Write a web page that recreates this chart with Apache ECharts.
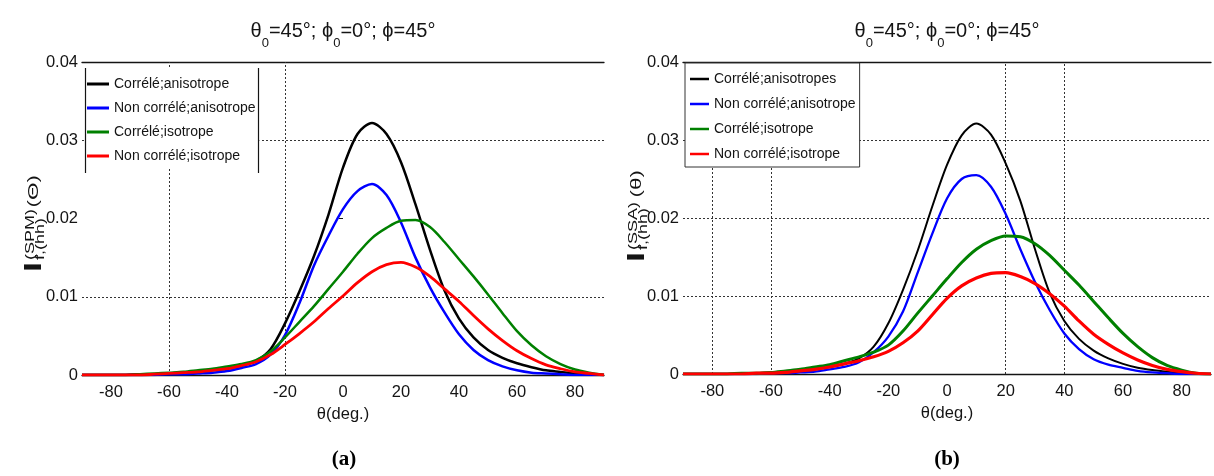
<!DOCTYPE html>
<html>
<head>
<meta charset="utf-8">
<script src="https://cdn.jsdelivr.net/npm/echarts@6/dist/echarts.min.js"></script>
<style>
  html, body { margin: 0; padding: 0; background: #fff; }
  #chart { width: 1214px; height: 476px; }
</style>
</head>
<body>
<div id="chart"></div>
<script>
// Incidence angle samples (degrees)
const theta = [-90, -85, -80, -75, -70, -65, -60, -55, -50, -45, -40, -35, -30, -25, -20, -15, -10, -5,
  0, 5, 10, 15, 20, 25, 30, 35, 40, 45, 50, 55, 60, 65, 70, 75, 80, 85, 90];

// (a) SPM intensities
const spmCorrAniso = [0, 0, 0, 0, 0.0001, 0.0001, 0.0002, 0.0003, 0.0004, 0.0006, 0.0008, 0.0012, 0.0018, 0.0033, 0.0066, 0.0107, 0.0152, 0.0205,
  0.0265, 0.0308, 0.0322, 0.0308, 0.0272, 0.0218, 0.0160, 0.0108, 0.0072, 0.0048, 0.0032, 0.0022, 0.0015, 0.0010, 0.0006, 0.0004, 0.0002, 0.0001, 0];
const spmUncorrAniso = [0, 0, 0, 0, 0, 0, 0.0001, 0.0001, 0.0002, 0.0003, 0.0005, 0.0009, 0.0014, 0.0026, 0.0051, 0.0092, 0.0140, 0.0178,
  0.0212, 0.0235, 0.0244, 0.0230, 0.0195, 0.0150, 0.0112, 0.0080, 0.0052, 0.0032, 0.0019, 0.0011, 0.0006, 0.0003, 0.0002, 0.0001, 0, 0, 0];
const spmCorrIso = [0, 0, 0, 0, 0.0001, 0.0002, 0.0003, 0.0004, 0.0006, 0.0008, 0.0011, 0.0014, 0.0019, 0.0030, 0.0048, 0.0068, 0.0088, 0.0110,
  0.0132, 0.0155, 0.0175, 0.0188, 0.0197, 0.0198, 0.0189, 0.0170, 0.0148, 0.0126, 0.0103, 0.0079, 0.0056, 0.0038, 0.0024, 0.0014, 0.0007, 0.0003, 0];
const spmUncorrIso = [0, 0, 0, 0, 0, 0.0001, 0.0002, 0.0003, 0.0004, 0.0006, 0.0008, 0.0012, 0.0017, 0.0026, 0.0039, 0.0053, 0.0068, 0.0085,
  0.0101, 0.0118, 0.0132, 0.0141, 0.0144, 0.0138, 0.0126, 0.0110, 0.0094, 0.0076, 0.0059, 0.0044, 0.0031, 0.0021, 0.0013, 0.0008, 0.0004, 0.0002, 0];

// (b) SSA intensities
const ssaCorrAniso = [0, 0, 0, 0, 0, 0.0001, 0.0002, 0.0003, 0.0004, 0.0006, 0.0009, 0.0013, 0.0020, 0.0035, 0.0065, 0.0108, 0.0158, 0.0215,
  0.0268, 0.0306, 0.0321, 0.0307, 0.0270, 0.0222, 0.0160, 0.0104, 0.0068, 0.0045, 0.0030, 0.0020, 0.0013, 0.0008, 0.0005, 0.0003, 0.0001, 0, 0];
const ssaUncorrAniso = [0, 0, 0, 0, 0, 0, 0.0001, 0.0001, 0.0002, 0.0003, 0.0006, 0.0009, 0.0015, 0.0028, 0.0048, 0.0080, 0.0130, 0.0180,
  0.0225, 0.0250, 0.0255, 0.0240, 0.0205, 0.0160, 0.0118, 0.0082, 0.0052, 0.0032, 0.0019, 0.0012, 0.0008, 0.0004, 0.0002, 0.0001, 0, 0, 0];
const ssaCorrIso = [0, 0, 0, 0, 0.0001, 0.0001, 0.0002, 0.0004, 0.0006, 0.0009, 0.0012, 0.0017, 0.0022, 0.0028, 0.0037, 0.0055, 0.0078, 0.0100,
  0.0122, 0.0143, 0.0160, 0.0171, 0.0177, 0.0176, 0.0167, 0.0152, 0.0133, 0.0114, 0.0093, 0.0072, 0.0052, 0.0035, 0.0021, 0.0011, 0.0005, 0.0001, 0];
const ssaUncorrIso = [0, 0, 0, 0, 0, 0.0001, 0.0001, 0.0002, 0.0004, 0.0006, 0.0009, 0.0013, 0.0017, 0.0022, 0.0029, 0.0040, 0.0055, 0.0076,
  0.0097, 0.0113, 0.0123, 0.0129, 0.0130, 0.0125, 0.0116, 0.0103, 0.0087, 0.0068, 0.0051, 0.0038, 0.0027, 0.0018, 0.0011, 0.0006, 0.0003, 0.0001, 0];

// Legend entries
const namesSpm = ['Corrélé;anisotrope', 'Non corrélé;anisotrope', 'Corrélé;isotrope', 'Non corrélé;isotrope'];
const namesSsa = ['Corrélé;anisotropes', 'Non corrélé;anisotrope', 'Corrélé;isotrope', 'Non corrélé;isotrope'];

// Axis ticks and grid positions
const xTickStep = 20;
const yTicks = [0, 0.01, 0.02, 0.03, 0.04];
const gridThetaSpm = [-60, -20];
const gridLevelSpm = [0.01, 0.03];
const gridThetaSsa = [-80, -60, 20, 40];
const gridLevelSsa = [0.01, 0.02, 0.03];

const FONT = "'Liberation Sans', Arial, Helvetica, sans-serif";
const INK = '#141414';
const COLORS = ['#000000', '#0000ff', '#008000', '#ff0000'];

function pairs(values) { return theta.map((t, i) => [t, values[i]]); }

function curve(name, values, color, width, gi) {
  return {
    name, type: 'line', xAxisIndex: gi * 2, yAxisIndex: gi * 2,
    data: pairs(values), symbol: 'none', showSymbol: false, smooth: 0.3,
    lineStyle: { color, width }, itemStyle: { color }, animation: false, z: 3
  };
}

// Dotted grid lines drawn beneath the legends
function gridLines(thetas, levels) {
  return {
    silent: true, z: 1, symbol: ['none', 'none'], label: { show: false }, animation: false,
    lineStyle: { color: '#333', width: 1, type: [2, 2] },
    data: thetas.map(v => ({ xAxis: v })).concat(levels.map(v => ({ yAxis: v })))
  };
}

const fmtX = v => (Math.round(v) % xTickStep === 0 && Math.abs(v) < 90) ? String(Math.round(v)) : '';
const fmtY = v => {
  const hit = yTicks.find(t => Math.abs(t - v) < 1e-9);
  return hit === undefined ? '' : (hit === 0 ? '0' : hit.toFixed(2));
};

function xAxes(gi) {
  return [{
    gridIndex: gi, type: 'value', min: -90, max: 90, interval: 10, position: 'bottom',
    axisLine: { onZero: false, lineStyle: { color: INK, width: 1.3 } },
    axisTick: { show: false }, splitLine: { show: false },
    axisLabel: { formatter: fmtX, fontSize: 16.5, color: INK, fontFamily: FONT, margin: 9 },
    name: 'θ(deg.)', nameLocation: 'middle', nameGap: 31,
    nameTextStyle: { fontSize: 16.5, color: INK, fontFamily: FONT }
  }, {
    gridIndex: gi, type: 'value', min: -90, max: 90, interval: 10, position: 'top',
    axisLine: { onZero: false, lineStyle: { color: INK, width: 1.3 } },
    axisTick: { show: false }, axisLabel: { show: false }, splitLine: { show: false }
  }];
}

function yAxes(gi) {
  return [{
    gridIndex: gi, type: 'value', min: 0, max: 0.04, interval: 0.01, position: 'left',
    axisLine: { show: false },
    axisTick: { show: true, length: 3, lineStyle: { color: INK } },
    axisLabel: { formatter: fmtY, fontSize: 16.5, color: INK, fontFamily: FONT, margin: 4 },
    splitLine: { show: false }
  }, {
    gridIndex: gi, type: 'value', min: 0, max: 0.04, interval: 0.01, position: 'right',
    axisLine: { show: false },
    axisTick: { show: true, inside: true, length: 4, lineStyle: { color: INK } },
    axisLabel: { show: false }, splitLine: { show: false }
  }];
}

const series = [
  curve(namesSpm[0], spmCorrAniso, COLORS[0], 2.5, 0),
  curve(namesSpm[1], spmUncorrAniso, COLORS[1], 2.5, 0),
  curve(namesSpm[2], spmCorrIso, COLORS[2], 2.5, 0),
  curve(namesSpm[3], spmUncorrIso, COLORS[3], 2.8, 0),
  curve(namesSsa[0], ssaCorrAniso, COLORS[0], 2, 1),
  curve(namesSsa[1], ssaUncorrAniso, COLORS[1], 2.3, 1),
  curve(namesSsa[2], ssaCorrIso, COLORS[2], 3, 1),
  curve(namesSsa[3], ssaUncorrIso, COLORS[3], 3.2, 1)
];
series[0].markLine = gridLines(gridThetaSpm, gridLevelSpm);
series[4].markLine = gridLines(gridThetaSsa, gridLevelSsa);

// Title with subscripts
function titleText(cx) {
  return {
    type: 'text', x: cx, y: 31, z: 20,
    style: {
      text: '{n|θ}{s|0}{n|=45°; ϕ}{s|0}{n|=0°; ϕ=45°}',
      align: 'center', verticalAlign: 'middle', fill: INK,
      rich: {
        n: { fontSize: 20, fontFamily: FONT, fill: INK },
        s: { fontSize: 13, fontFamily: FONT, fill: INK, padding: [24, 0, 0, 0] }
      }
    }
  };
}

// Rotated y-axis label: I with stacked super/subscript
function yName(cx, bottom, sup, arg) {
  return {
    type: 'group', x: cx, y: bottom, rotation: Math.PI / 2, scaleX: 1.5, z: 20,
    children: [
      { type: 'text', x: 0, y: 0, style: { text: 'I', font: 'bold 24px ' + FONT, fill: INK, verticalAlign: 'middle' } },
      { type: 'text', x: 8, y: -3.5, style: { text: sup, font: '12px ' + FONT, fill: INK, verticalAlign: 'middle' } },
      { type: 'text', x: 8, y: 7, style: { text: 'f,(hh)', font: '12px ' + FONT, fill: INK, verticalAlign: 'middle' } },
      { type: 'text', x: 43, y: 0, style: { text: arg, font: '15px ' + FONT, fill: INK, verticalAlign: 'middle' } }
    ]
  };
}

function panelTag(cx, text) {
  return {
    type: 'text', x: cx, y: 460, z: 20,
    style: { text, font: "bold 21px 'Liberation Serif', 'Times New Roman', serif", fill: '#000', align: 'center', verticalAlign: 'middle' }
  };
}

function sideLine(x) {
  return { type: 'line', z: 30, shape: { x1: x, y1: 68, x2: x, y2: 173 }, style: { stroke: INK, lineWidth: 1.2 } };
}

const legendText = { fontSize: 14, fontFamily: FONT, color: INK };

const option = {
  backgroundColor: '#ffffff',
  animation: false,
  grid: [
    { left: 82, top: 62, width: 522, height: 313 },
    { left: 683, top: 62, width: 529, height: 312 }
  ],
  xAxis: xAxes(0).concat(xAxes(1)),
  yAxis: yAxes(0).concat(yAxes(1)),
  legend: [{
    data: namesSpm, z: 6,
    orient: 'vertical', left: 84, top: 69, selectedMode: false,
    icon: 'rect', itemWidth: 22, itemHeight: 3, itemGap: 10, padding: [8, 4, 6, 3],
    backgroundColor: '#fff', borderWidth: 0,
    textStyle: legendText
  }, {
    data: namesSsa, z: 6,
    orient: 'vertical', left: 685, top: 63, selectedMode: false,
    icon: 'rect', itemWidth: 19, itemHeight: 2.5, itemGap: 11, padding: [9, 4, 6, 5],
    backgroundColor: '#fff', borderColor: '#333', borderWidth: 1,
    textStyle: legendText
  }],
  graphic: [
    titleText(343), titleText(947),
    yName(34, 272, '(SPM)', '(Θ)'), yName(637, 262, '(SSA)', '(θ)'),
    panelTag(344, '(a)'), panelTag(947, '(b)'),
    sideLine(85.5), sideLine(258.5)
  ],
  series
};

const chart = echarts.init(document.getElementById('chart'), null, { renderer: 'canvas' });
chart.setOption(option);
</script>
</body>
</html>
